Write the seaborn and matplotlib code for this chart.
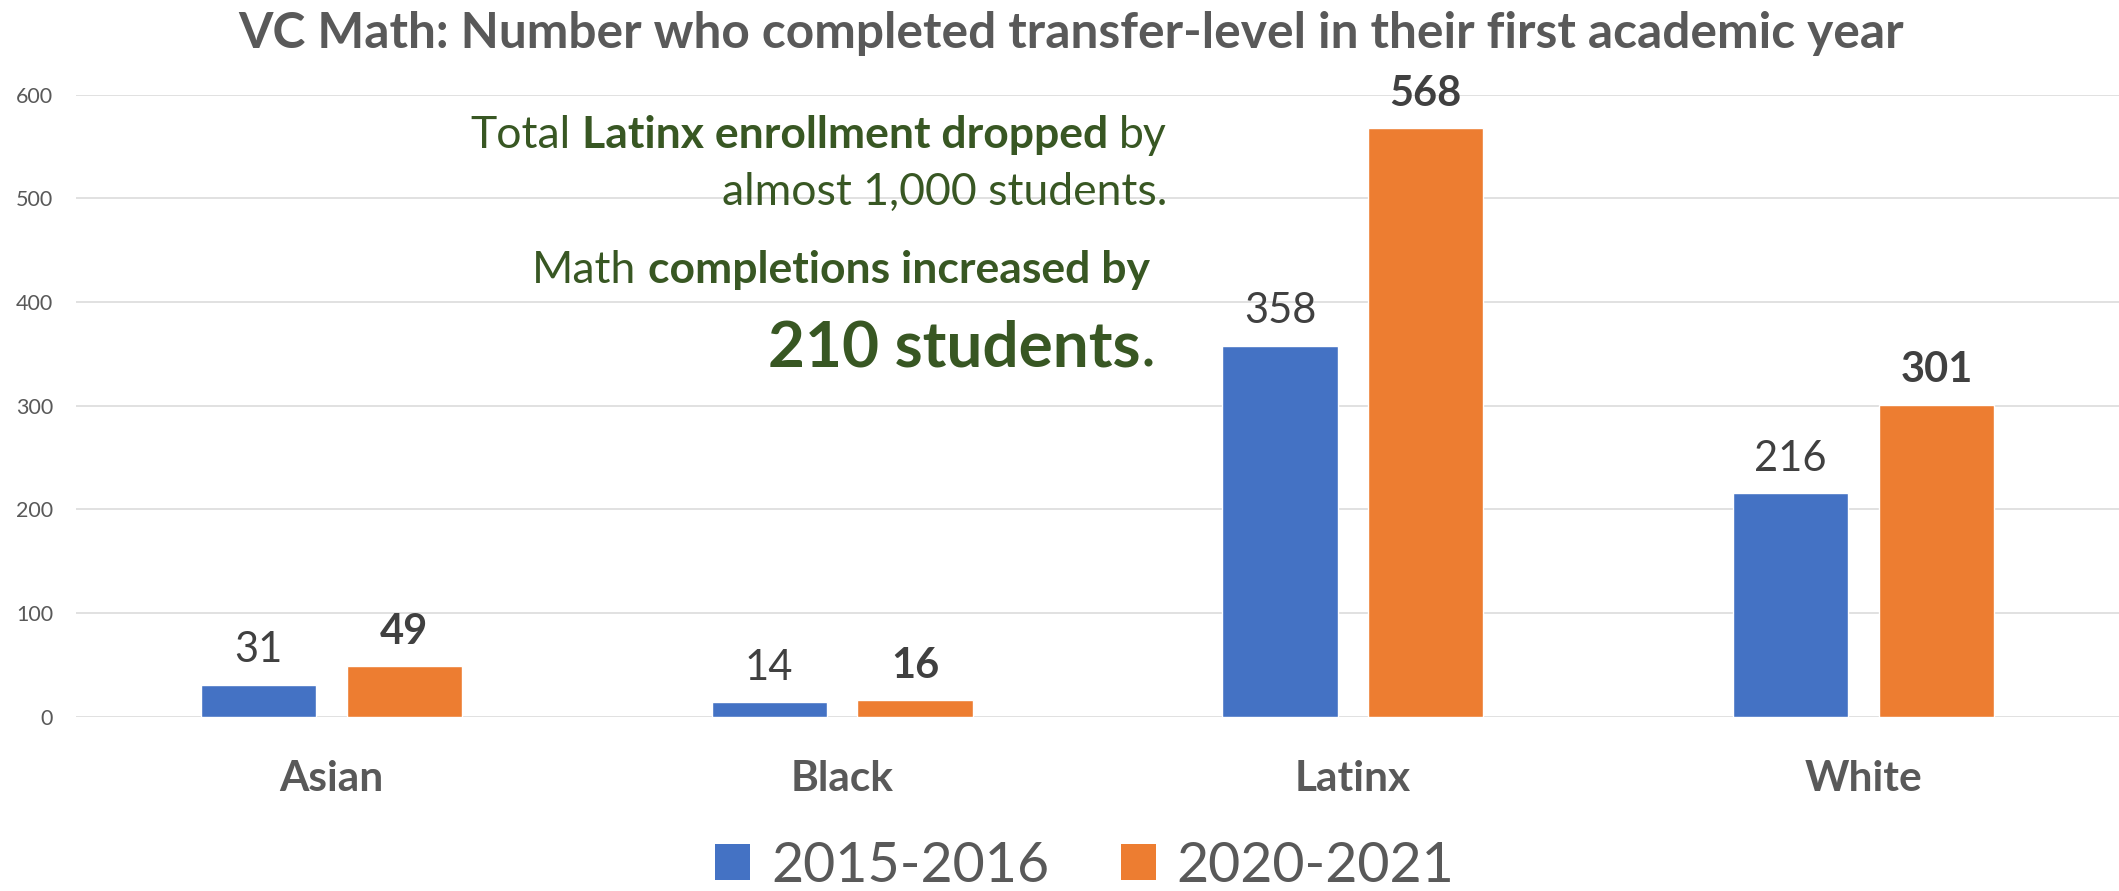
import matplotlib
matplotlib.use("Agg")
import matplotlib.pyplot as plt
from matplotlib.transforms import IdentityTransform
from matplotlib.patches import Patch
import seaborn as sns
import pandas as pd

# ---- data ----
categories = ["Asian", "Black", "Latinx", "White"]
series_names = ["2015-2016", "2020-2021"]
values_2015 = [31, 14, 358, 216]
values_2020 = [49, 16, 568, 301]
y_ticks = [0, 100, 200, 300, 400, 500, 600]
title_text = "VC Math: Number who completed transfer-level in their first academic year"

BLUE = "#4472C4"
ORANGE = "#ED7D31"
GRAY = "#595959"
DARK = "#404040"
GREEN = "#385723"
GRID = "#D9D9D9"

df = pd.DataFrame({
    "Group": categories * 2,
    "Year": [series_names[0]] * 4 + [series_names[1]] * 4,
    "Count": values_2015 + values_2020,
})

sns.set_theme(style="white")
plt.rcParams["font.family"] = ["Lato", "DejaVu Sans"]

W, H = 2119, 891
fig = plt.figure(figsize=(W / 100, H / 100), dpi=100)
ax = fig.add_axes([76 / W, 1 - 716.7 / H, 1 - 76 / W, (716.7 - 94.7) / H])

sns.barplot(data=df, x="Group", y="Count", hue="Year", order=categories,
            hue_order=series_names, palette=[BLUE, ORANGE], width=0.571,
            gap=0.21, saturation=1, ax=ax, legend=False)

ax.set_xlim(-0.5, 3.5)
ax.set_ylim(0, 600)
ax.set_yticks(y_ticks)
ax.set_xlabel("")
ax.set_ylabel("")
for s in ax.spines.values():
    s.set_visible(False)
ax.yaxis.grid(True, color=GRID, linewidth=1.1)
ax.xaxis.grid(False)
ax.set_axisbelow(True)
ax.tick_params(axis="y", length=0, pad=16.5, labelsize=15.5, labelcolor=GRAY)
ax.tick_params(axis="x", length=0, pad=31, labelsize=30.5, labelcolor=GRAY)
for lbl in ax.get_xticklabels():
    lbl.set_fontweight("bold")

# value labels
conts = ax.containers
ax.bar_label(conts[0], labels=[str(v) for v in values_2015], padding=11,
             fontsize=30, color=DARK, clip_on=False)
ax.bar_label(conts[1], labels=[str(v) for v in values_2020], padding=11,
             fontsize=30, color=DARK, fontweight="bold", clip_on=False)

# title
fig.text(1071 / W, 1 - 47.7 / H, title_text, ha="center", va="baseline",
         fontsize=35.7, fontweight="bold", color=GRAY)

# legend
handles = [Patch(facecolor=BLUE, edgecolor="none"), Patch(facecolor=ORANGE, edgecolor="none")]
fig.legend(handles, series_names, loc="center", bbox_to_anchor=(1085 / W, 1 - 866 / H),
           ncol=2, frameon=False, fontsize=40, handlelength=0.62, handleheight=0.62,
           handletextpad=0.38, columnspacing=1.3, labelcolor=GRAY,
           borderaxespad=0, borderpad=0)

# rich annotation text
renderer = fig.canvas.get_renderer()


def text_width(s, size, weight):
    t = fig.text(0, 0, s, fontsize=size, fontweight=weight, transform=IdentityTransform())
    w = t.get_window_extent(renderer).width
    t.remove()
    return w


def rich_line(pieces, x_right, y_base_top, size):
    widths = []
    for s, w in pieces:
        widths.append(text_width(s, size, w))
    sp = text_width("x x", size, "normal") - text_width("xx", size, "normal")
    total = sum(widths) + sp * (len(pieces) - 1)
    x = x_right - total
    y = H - y_base_top
    for i, ((s, w), wd) in enumerate(zip(pieces, widths)):
        fig.text(x, y, s, fontsize=size, fontweight=w, color=GREEN, ha="left",
                 va="baseline", transform=IdentityTransform())
        x += wd + sp


rich_line([("Total", "normal"), ("Latinx enrollment dropped", "bold"), ("by", "normal")],
          1167, 148, 32)
rich_line([("almost 1,000 students.", "normal")], 1167, 205, 32)
rich_line([("Math", "normal"), ("completions increased by", "bold")], 1150, 283, 32)
t1 = text_width("210 students", 46, "bold")
t2 = text_width(".", 46, "normal")
fig.text(1155 - t2 - t1, H - 366.7, "210 students", fontsize=46, fontweight="bold",
         color=GREEN, ha="left", va="baseline", transform=IdentityTransform())
fig.text(1155 - t2, H - 366.7, ".", fontsize=46, color=GREEN, ha="left",
         va="baseline", transform=IdentityTransform())

fig.savefig("out.png", dpi=100)
